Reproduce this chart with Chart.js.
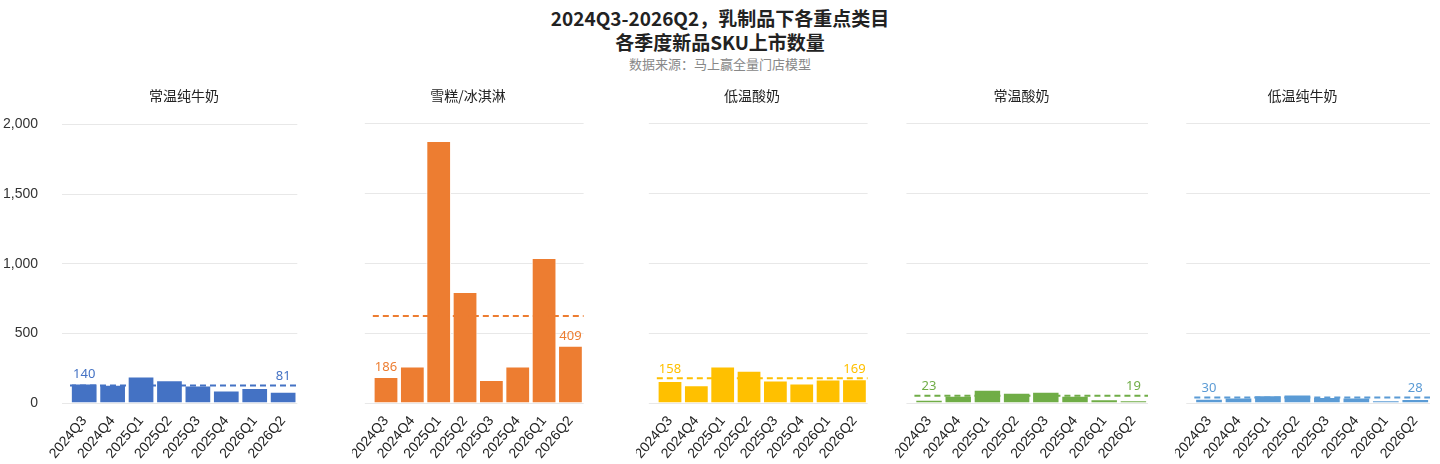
<!DOCTYPE html>
<html><head><meta charset="utf-8">
<script src="https://cdn.jsdelivr.net/npm/chart.js@4"></script>
<style>
body{margin:0;width:1440px;height:464px;background:#fff;font-family:"Noto Sans CJK SC",sans-serif;position:relative;overflow:hidden}
.t{position:absolute;left:0;width:1440px;text-align:center;color:#222}
.p{position:absolute;top:85px;font-size:14px;color:#222;text-align:center;z-index:2}
canvas{position:absolute}
</style></head><body>
<div class="t" style="top:4px;font-size:19px;font-weight:bold">2024Q3-2026Q2，乳制品下各重点类目</div>
<div class="t" style="top:28px;font-size:19px;font-weight:bold">各季度新品SKU上市数量</div>
<div class="t" style="top:54px;font-size:13px;color:#888">数据来源：马上赢全量门店模型</div>
<script>
// 数据
const quarters = ['2024Q3','2024Q4','2025Q1','2025Q2','2025Q3','2025Q4','2026Q1','2026Q2'];
const categories = ['常温纯牛奶','雪糕/冰淇淋','低温酸奶','常温酸奶','低温纯牛奶'];
const milkAmbient = [140,131,190,164,126,90,107,81];
const iceCream = [186,260,1871,793,164,260,1036,409];
const yogurtChilled = [158,126,260,231,160,140,167,169];
const yogurtAmbient = [23,52,95,74,81,52,26,19];
const milkChilled = [30,40,55,60,42,40,20,28];
const averages = [125,622,176,52,40];
const yTicks = [0,500,1000,1500,2000];

const seriesList = [milkAmbient, iceCream, yogurtChilled, yogurtAmbient, milkChilled];
const colors = ['#4472C4','#ED7D31','#FFC000','#70AD47','#5B9BD5'];
const lefts = [0,352,636,895,1175];
const widths = [298,232,232,253,255];

const extras = {
  id:'extras',
  afterDatasetsDraw(chart, args, opt){
    const {ctx, chartArea, scales:{y}} = chart;
    const yy = y.getPixelForValue(opt.avg);
    ctx.save();
    ctx.strokeStyle = opt.color; ctx.lineWidth = 2; ctx.setLineDash([6,4]);
    ctx.beginPath(); ctx.moveTo(chartArea.left, yy); ctx.lineTo(chartArea.right, yy); ctx.stroke();
    ctx.setLineDash([]);
    const meta = chart.getDatasetMeta(0);
    const d = chart.data.datasets[0].data;
    ctx.fillStyle = opt.color; ctx.font = '13px "Noto Sans", sans-serif';
    ctx.textAlign = 'center'; ctx.textBaseline = 'bottom';
    [0, d.length-1].forEach(i => {
      const b = meta.data[i];
      const top = (b.y - yy > 0 && b.y - yy < 20) ? yy : b.y;
      ctx.fillText(d[i], b.x, top - 3);
    });
    ctx.restore();
  }
};

seriesList.forEach((vals, k) => {
  const first = k === 0;
  const yw = first ? 70 : 0;
  const top = first ? 92 : 100;
  const div = document.createElement('div');
  div.className = 'p';
  div.style.left = (lefts[k] + yw) + 'px';
  div.style.width = (widths[k] - yw) + 'px';
  div.textContent = categories[k];
  document.body.appendChild(div);
  const c = document.createElement('canvas');
  c.style.left = lefts[k] + 'px'; c.style.top = top + 'px';
  c.style.width = widths[k] + 'px'; c.style.height = (464 - top) + 'px';
  document.body.appendChild(c);
  new Chart(c, {
    type:'bar',
    data:{labels:quarters, datasets:[{data:vals, backgroundColor:colors[k], borderColor:'#fff', borderWidth:1,
      categoryPercentage:1, barPercentage:0.94}]},
    options:{
      responsive:false, animation:false,
      layout:{padding:{top:first ? 2 : 23,right:0,left:0,bottom:0}},
      plugins:{legend:{display:false}, tooltip:{enabled:false}, extras:{avg:averages[k], color:colors[k]}},
      scales:{
        x:{grid:{display:false}, border:{display:false},
           ticks:{color:'#222', font:{size:14, family:'"Liberation Sans", sans-serif'}, maxRotation:50, minRotation:50, padding:2},
           afterFit(s){ s.height = 61; }},
        y:{min:0, max:2000, afterBuildTicks(s){ s.ticks = yTicks.map(v => ({value:v})); },
           grid:{color:'#e8e8e8'}, border:{display:false},
           ticks:{display:first, color:'#333', font:{size:14, family:'"Liberation Sans", sans-serif'}, padding:24,
                  callback:v => v.toLocaleString('en-US')},
           afterFit(s){ s.width = yw; }}
      }
    },
    plugins:[extras]
  });
});
</script>
</body></html>
